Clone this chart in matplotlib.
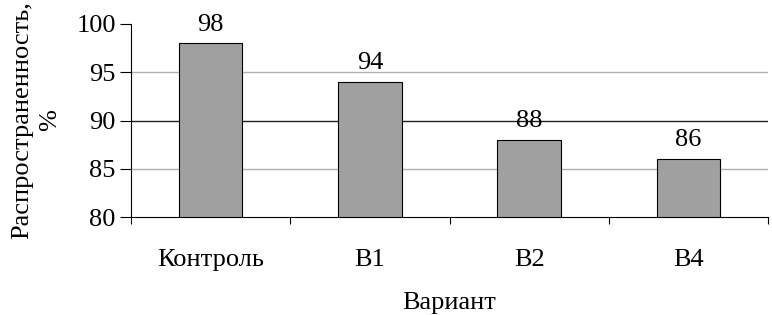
import matplotlib
matplotlib.use("Agg")
import matplotlib.pyplot as plt
import numpy as np

categories = ["Контроль", "В1", "В2", "В4"]
values = [98, 94, 88, 86]
yticks = [80, 85, 90, 95, 100]

plt.rcParams['font.family'] = ['Liberation Serif', 'DejaVu Serif']
FS = 19
fig = plt.figure(figsize=(7.72, 3.15), dpi=100)
ax = fig.add_axes([131/772, 1-217/315, (768-131)/772, (217-24)/315])

x = np.arange(len(categories)) + 0.5
ax.bar(x, [v - 80 for v in values], bottom=80, width=0.4, color='#a0a0a0',
       edgecolor='black', linewidth=0.8, zorder=3)
for xi, v in zip(x, values):
    ax.text(xi, v + 0.8, str(v), ha='center', va='bottom', fontsize=FS)

ax.set_xlim(0, 4)
ax.set_ylim(80, 100)
ax.set_yticks(yticks)
ax.set_yticklabels([str(t) for t in yticks], fontsize=FS)
for t, c in [(85, '#b0b0b0'), (90, '#202020'), (95, '#b0b0b0')]:
    ax.axhline(t, color=c, linewidth=1.0, zorder=1)

ax.set_xticks(np.arange(0, 5))
ax.set_xticklabels([])
ax.set_xticks(x, minor=True)
ax.set_xticklabels(categories, minor=True, fontsize=FS)
ax.tick_params(axis='x', which='major', direction='out', length=5, width=0.8)
ax.tick_params(axis='x', which='minor', length=0, pad=23)
ax.tick_params(axis='y', direction='out', length=8, width=0.8, pad=3)

for s in ['top', 'right']:
    ax.spines[s].set_visible(False)
ax.spines['left'].set_linewidth(0.8)
ax.spines['bottom'].set_linewidth(0.8)

ax.set_xlabel("Вариант", fontsize=FS, labelpad=15)
ax.set_ylabel("Распространенность,\n%", fontsize=FS, labelpad=11, linespacing=1.35)

fig.savefig("out.png", dpi=100)
